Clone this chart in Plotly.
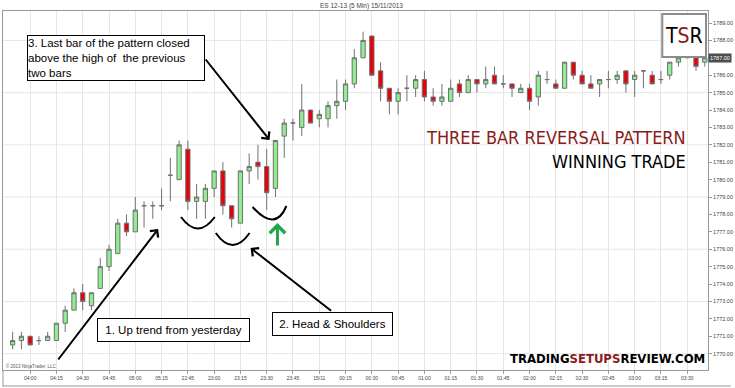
import plotly.graph_objects as go

# ---------------- data ----------------
tick_labels = ["04:00", "04:15", "04:30", "04:45", "05:00", "05:15", "22:45", "23:00",
               "23:15", "23:30", "23:45", "15/11", "00:15", "00:30", "00:45", "01:00",
               "01:15", "01:30", "01:45", "02:00", "02:15", "02:30", "02:45", "03:00",
               "03:15", "03:30"]

opens = [1770.5, 1770.75, 1771.0, 1770.75, 1770.75, 1770.75, 1771.75, 1772.5, 1773.5, 1772.75,
         1773.75, 1775.0, 1775.75, 1777.5, 1777.0, 1778.5, 1778.5, 1778.5, 1780.25, 1780.0,
         1781.75, 1778.75, 1778.75, 1779.5, 1780.5, 1778.5, 1777.5, 1780.5, 1781.0, 1780.75,
         1779.5, 1782.5, 1783.25, 1783.0, 1784.0, 1783.5, 1783.5, 1784.25, 1784.5, 1785.5,
         1787.0, 1788.25, 1786.25, 1785.25, 1784.5, 1785.25, 1785.25, 1785.75, 1784.75, 1784.5,
         1784.5, 1785.5, 1785.0, 1785.75, 1785.5, 1786.0, 1785.5, 1785.5, 1785.0, 1785.25,
         1784.75, 1785.75, 1785.5, 1785.25, 1786.75, 1786.0, 1785.5, 1785.5, 1785.75, 1785.75,
         1786.25, 1785.75, 1786.25, 1786.0, 1785.75, 1786.0, 1786.75, 1787.0, 1787.0, 1786.75]
highs = [1771.25, 1771.25, 1771.0, 1771.0, 1771.25, 1771.75, 1772.75, 1773.75, 1774.0, 1773.5,
         1775.5, 1776.25, 1777.75, 1778.0, 1779.0, 1778.75, 1778.75, 1779.5, 1781.25, 1782.25,
         1782.25, 1779.75, 1779.75, 1780.5, 1781.0, 1778.5, 1780.5, 1781.5, 1782.0, 1781.75,
         1782.25, 1783.5, 1783.5, 1785.5, 1784.0, 1784.0, 1784.5, 1785.75, 1785.75, 1787.5,
         1788.5, 1788.25, 1786.75, 1785.25, 1785.25, 1786.0, 1786.0, 1786.25, 1785.25, 1785.5,
         1785.75, 1785.75, 1786.0, 1785.75, 1786.5, 1786.5, 1786.0, 1785.5, 1785.5, 1785.5,
         1786.25, 1786.25, 1785.75, 1786.75, 1786.75, 1786.25, 1786.0, 1785.75, 1786.25, 1786.25,
         1786.25, 1786.25, 1786.25, 1786.25, 1786.25, 1786.75, 1787.25, 1787.75, 1787.0, 1787.25]
lows = [1770.25, 1770.25, 1770.5, 1770.5, 1770.75, 1770.75, 1771.25, 1772.5, 1772.5, 1772.5,
        1773.75, 1774.75, 1775.75, 1776.75, 1777.0, 1777.25, 1777.75, 1778.25, 1778.75, 1780.0,
        1778.25, 1777.75, 1777.75, 1779.0, 1778.0, 1777.25, 1777.5, 1779.75, 1780.0, 1778.25,
        1779.0, 1781.25, 1782.25, 1782.5, 1783.25, 1783.0, 1783.0, 1783.5, 1784.0, 1785.25,
        1787.0, 1786.0, 1784.5, 1783.75, 1783.75, 1784.5, 1784.75, 1784.5, 1784.25, 1784.25,
        1784.5, 1784.75, 1785.0, 1785.0, 1785.25, 1785.5, 1785.25, 1784.75, 1785.0, 1784.0,
        1784.25, 1785.5, 1785.25, 1785.25, 1785.75, 1785.5, 1785.25, 1784.75, 1785.25, 1785.5,
        1785.0, 1784.75, 1785.25, 1785.5, 1785.5, 1785.75, 1786.5, 1787.0, 1786.25, 1786.5]
closes = [1770.75, 1771.0, 1770.5, 1770.75, 1771.0, 1771.75, 1772.5, 1773.5, 1773.0, 1773.5,
          1775.0, 1776.0, 1777.5, 1777.0, 1778.25, 1778.5, 1778.5, 1778.5, 1780.25, 1782.0,
          1778.75, 1779.0, 1779.5, 1780.5, 1778.5, 1777.75, 1780.5, 1780.75, 1780.75, 1779.25,
          1782.25, 1783.25, 1783.25, 1784.0, 1783.25, 1783.75, 1784.25, 1784.5, 1785.5, 1787.0,
          1788.0, 1786.0, 1785.25, 1784.5, 1785.0, 1785.25, 1785.75, 1784.75, 1784.5, 1784.75,
          1785.25, 1785.0, 1785.75, 1785.5, 1785.75, 1785.5, 1785.5, 1785.25, 1785.25, 1784.5,
          1786.0, 1785.75, 1785.25, 1786.75, 1786.0, 1785.5, 1785.25, 1785.75, 1785.75, 1786.0,
          1785.5, 1786.0, 1786.25, 1785.5, 1785.75, 1786.75, 1787.0, 1787.5, 1786.5, 1787.0]

bar_index = list(range(len(opens)))
label_index = [2 + 3 * k for k in range(len(tick_labels))]
grid_levels = list(range(1770, 1789, 3))
price_ticks = [p for p in range(1770, 1790) if p != round(closes[-1])]

# ---------------- geometry helpers (plot area in pixels) ----------------
W, H = 735, 388
PL, PR, PT, PB = 2, 711, 11, 370


def px(xp):
    return (xp - PL) / (PR - PL)


def py(yp):
    return (PB - yp) / (PB - PT)


RED = "#8B1A1A"
NARROW = "Liberation Sans Narrow, DejaVu Sans Condensed, Arial Narrow, sans-serif"
ARIAL = "Liberation Sans, Arial, sans-serif"

fig = go.Figure()
fig.add_trace(go.Candlestick(
    x=bar_index, open=opens, high=highs, low=lows, close=closes,
    increasing=dict(fillcolor="#90EE90", line=dict(color="#707070", width=1)),
    decreasing=dict(fillcolor="#E8000B", line=dict(color="#707070", width=1)),
    whiskerwidth=0, showlegend=False, hoverinfo="skip",
))

shapes = []
for lvl in grid_levels:
    shapes.append(dict(type="line", xref="paper", yref="y", x0=0, x1=1, y0=lvl, y1=lvl,
                       line=dict(color="#E6E6E6", width=1), layer="below"))

annotations = []
# title
annotations.append(dict(xref="paper", yref="paper", x=px(363), y=py(5.5), text="ES 12-13 (5 Min) 15/11/2013",
                        showarrow=False, font=dict(family=ARIAL, size=6.5, color="#444"),
                        xanchor="center", yanchor="middle"))
# copyright
annotations.append(dict(xref="paper", yref="paper", x=px(3), y=py(365.5), text="© 2013 NinjaTrader, LLC",
                        showarrow=False, font=dict(family=ARIAL, size=4.5, color="#555"),
                        xanchor="left", yanchor="middle"))
# arrows (head -> tail in pixels)
arrows = [((158, 229), (57, 361), "black", 2),
          ((270, 140), (205, 58), "black", 2),
          ((251, 248), (333, 312), "black", 2),
          ((278, 223), (278, 247), "#1FA84A", 3)]
for (hx, hy), (tx, ty), col, wdt in arrows:
    annotations.append(dict(xref="paper", yref="paper", x=px(hx), y=py(hy), text="",
                            showarrow=True, ax=tx - hx, ay=ty - hy, axref="pixel", ayref="pixel",
                            arrowhead=4, arrowsize=1, arrowwidth=wdt, arrowcolor=col, standoff=0))
# text boxes
boxes = [((173.5, 330), 151, 22, "1. Up trend from yesterday", "center"),
         ((333.5, 324), 119, 22, "2. Head &amp; Shoulders", "center"),
         ((116, 58), 176, 44, "3. Last bar of the pattern closed<br>above the high of  the previous<br>two bars", "left")]
for (cx, cy), bw, bh, txt, al in boxes:
    annotations.append(dict(xref="paper", yref="paper", x=px(cx), y=py(cy), text=txt, showarrow=False,
                            width=bw, height=bh, align=al, valign="middle",
                            bgcolor="white", bordercolor="black", borderwidth=1, borderpad=0,
                            font=dict(family=ARIAL, size=11.5, color="black"),
                            xanchor="center", yanchor="middle"))
# headline texts
annotations.append(dict(xref="paper", yref="paper", x=px(691), y=py(137), text="THREE BAR REVERSAL PATTERN",
                        showarrow=False, font=dict(family=NARROW, size=18, color=RED),
                        xanchor="right", yanchor="middle"))
annotations.append(dict(xref="paper", yref="paper", x=px(691), y=py(161), text="WINNING TRADE",
                        showarrow=False, font=dict(family=NARROW, size=18, color="black"),
                        xanchor="right", yanchor="middle"))
annotations.append(dict(xref="paper", yref="paper", x=px(710), y=py(358),
                        text="<b>TRADING<span style='color:%s'>SETUPS</span>REVIEW.COM</b>" % RED,
                        showarrow=False, font=dict(family=NARROW, size=13, color="black"),
                        xanchor="right", yanchor="middle"))
# logo
annotations.append(dict(xref="paper", yref="paper", x=px(687), y=py(36),
                        text="T<span style='color:%s'>S</span>R" % RED,
                        showarrow=False, font=dict(family=NARROW, size=21, color="black"),
                        xanchor="center", yanchor="middle"))
# last price box
annotations.append(dict(xref="paper", yref="y", x=px(711.5), y=closes[-1], text="%.2f" % closes[-1],
                        showarrow=False, bgcolor="#4D4D4D", borderpad=1,
                        font=dict(family=ARIAL, size=5.5, color="white"),
                        xanchor="left", yanchor="middle"))

# head & shoulders arcs (quadratic curves, pixel coords converted to paper)
arcs = [((181, 217), (198, 240), (215, 217)),
        ((216, 233), (233, 257), (250, 233)),
        ((253, 207), (276, 232.5), (287, 206))]
for (x0, y0), (cx, cy), (x1, y1) in arcs:
    shapes.append(dict(type="path", xref="paper", yref="paper",
                       path="M %f %f Q %f %f %f %f" % (px(x0), py(y0), px(cx), py(cy), px(x1), py(y1)),
                       line=dict(color="black", width=2)))
# logo frame
shapes.append(dict(type="rect", xref="paper", yref="paper", x0=px(665), x1=px(709), y0=py(57), y1=py(14),
                   line=dict(color="#8C8C8C", width=2), fillcolor="white", layer="above"))
# outer bottom frame
shapes.append(dict(type="line", xref="paper", yref="paper", x0=px(1), x1=px(734), y0=py(386), y1=py(386),
                   line=dict(color="#999", width=1)))
shapes.append(dict(type="line", xref="paper", yref="paper", x0=px(2), x1=px(2), y0=py(370), y1=py(386),
                   line=dict(color="#999", width=1)))

fig.update_layout(
    width=W, height=H, margin=dict(l=PL, r=W - PR, t=PT, b=H - PB, pad=0),
    paper_bgcolor="white", plot_bgcolor="white",
    annotations=annotations, shapes=shapes, showlegend=False,
)
fig.update_xaxes(range=[-1.1, 79.37], tickvals=label_index, ticktext=tick_labels,
                 showgrid=True, gridcolor="#E6E6E6", gridwidth=1, zeroline=False,
                 showline=True, linecolor="#999", linewidth=1, mirror=True,
                 ticks="outside", ticklen=3, tickcolor="#999",
                 tickfont=dict(family=ARIAL, size=5, color="#444"),
                 rangeslider_visible=False, fixedrange=True)
fig.update_yaxes(range=[1769.06, 1789.69], side="right", tickvals=price_ticks, tickformat=".2f",
                 showgrid=False, zeroline=False,
                 showline=True, linecolor="#999", linewidth=1, mirror=True,
                 ticks="outside", ticklen=3, tickcolor="#999",
                 tickfont=dict(family=ARIAL, size=5.5, color="#444"), fixedrange=True)

fig.write_html("out.html")
